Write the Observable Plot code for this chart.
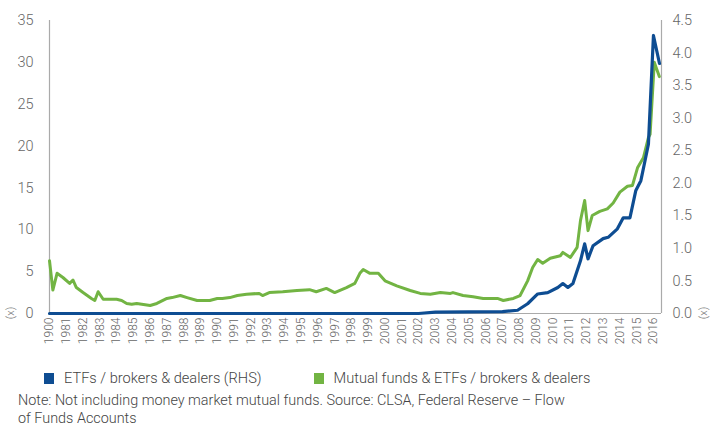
<!DOCTYPE html>
<html>
<head>
<meta charset="utf-8">
<script src="https://cdn.jsdelivr.net/npm/d3@7"></script>
<script src="https://cdn.jsdelivr.net/npm/@observablehq/plot@0.6"></script>
<style>
  body { margin: 0; background: #fff; font-family: Roboto, "Liberation Sans", sans-serif; font-weight: 300; }
  #wrap { position: relative; width: 711px; height: 428px; overflow: hidden; }
  #legend { position: absolute; left: 44px; top: 369px; font-size: 14.6px; color: #444; display: flex; align-items: center; white-space: nowrap; }
  .sw { display: inline-block; width: 10px; height: 11px; margin-right: 10px; }
  .item { display: flex; align-items: center; margin-right: 52px; }
  #note { position: absolute; left: 18px; top: 392px; font-size: 14.4px; line-height: 17.5px; color: #444; white-space: nowrap; }
  #note span { display: block; }
</style>
</head>
<body>
<div id="wrap">
  <div id="chart"></div>
  <div id="legend"></div>
  <div id="note"></div>
</div>
<script>
// ---- data ----
const years = d3.range(1980, 2017);
const yearLabels = ["1900","1981","1982","1983","1984","1985","1986","1987","1988","1989","1990","1991","1992","1993","1994","1995","1996","1997","1998","1999","2000","2001","2002","2003","2004","2005","2006","2007","2008","2009","2010","2011","2012","2013","2014","2015","2016"];
const leftTicks = [0, 5, 10, 15, 20, 25, 30, 35];
const rightTicks = [0, 0.5, 1.0, 1.5, 2.0, 2.5, 3.0, 3.5, 4.0, 4.5];

// Mutual funds & ETFs / brokers & dealers (left axis, x)
const mfTime = [1980.0,1980.2,1980.45,1980.8,1981.2,1981.4,1981.6,1982.0,1982.5,1982.7,1982.9,1983.2,1984.0,1984.3,1984.6,1984.9,1985.2,1986.0,1986.4,1987.0,1987.3,1987.8,1988.2,1988.8,1989.55,1990.0,1990.3,1990.75,1991.2,1991.75,1992.5,1992.7,1993.1,1993.9,1994.75,1995.5,1995.9,1996.5,1997.0,1997.7,1998.2,1998.5,1998.7,1999.1,1999.6,2000.0,2000.7,2001.5,2002.1,2002.7,2003.3,2003.9,2004.05,2004.65,2005.25,2005.85,2006.7,2007.05,2007.65,2008.05,2008.5,2008.8,2009.1,2009.4,2009.85,2010.45,2010.6,2011.05,2011.45,2011.65,2011.9,2012.1,2012.35,2012.8,2013.25,2013.6,2014.0,2014.45,2014.75,2015.05,2015.4,2015.7,2015.8,2016.05,2016.35];
const mfValue = [6.3,2.8,4.8,4.3,3.6,4.0,3.1,2.5,1.8,1.55,2.6,1.7,1.7,1.55,1.2,1.1,1.2,0.96,1.2,1.8,1.9,2.15,1.9,1.55,1.55,1.8,1.8,1.9,2.15,2.3,2.4,2.15,2.5,2.6,2.75,2.85,2.6,3.0,2.5,3.1,3.6,4.8,5.25,4.8,4.8,3.9,3.3,2.75,2.4,2.3,2.5,2.4,2.5,2.15,2.0,1.8,1.8,1.55,1.8,2.15,3.9,5.5,6.45,6.0,6.6,6.9,7.3,6.7,7.9,11.1,13.5,9.9,11.7,12.2,12.5,13.2,14.5,15.2,15.3,17.4,18.6,21.0,21.4,30.0,28.3];

// ETFs / brokers & dealers (right axis, x)
const etfTime = [1980.0,2002.0,2003.0,2007.0,2007.9,2008.5,2009.1,2009.7,2010.3,2010.6,2010.9,2011.2,2011.65,2011.9,2012.1,2012.4,2013.0,2013.3,2013.85,2014.2,2014.6,2014.95,2015.25,2015.5,2015.7,2016.0,2016.36];
const etfValue = [0.0,0.0,0.02,0.03,0.05,0.15,0.3,0.32,0.4,0.46,0.4,0.46,0.81,1.07,0.84,1.04,1.15,1.17,1.3,1.47,1.47,1.89,2.04,2.35,2.6,4.27,3.84];

const seriesNames = ["ETFs / brokers & dealers (RHS)", "Mutual funds & ETFs / brokers & dealers"];
const seriesColors = ["#0e4d92", "#72b443"];
const noteLines = ["Note: Not including money market mutual funds. Source: CLSA, Federal Reserve \u2013 Flow", "of Funds Accounts"];

// ---- build ----
const k = 35 / 4.5; // right axis -> left axis
const mf = mfTime.map((t, i) => ({t, v: mfValue[i]}));
const etf = etfTime.map((t, i) => ({t, v: etfValue[i] * k}));
const labelMap = new Map(years.map((y, i) => [y, yearLabels[i]]));

const chart = Plot.plot({
  width: 711,
  height: 355,
  marginLeft: 49,
  marginRight: 50,
  marginTop: 20,
  marginBottom: 42,
  style: { fontFamily: "Roboto, 'Liberation Sans', sans-serif", fontWeight: 300, color: "#666", background: "#fff" },
  x: { domain: [1980, 2016.48] },
  y: { domain: [0, 35] },
  marks: [
    Plot.ruleX([1980], { stroke: "#aaa", strokeWidth: 1.2 }),
    Plot.ruleX([2016.48], { stroke: "#aaa", strokeWidth: 1.2 }),
    Plot.ruleY([0], { stroke: "#aaa", strokeWidth: 1.2 }),
    Plot.axisX(years, { tickSize: 0, tickRotate: -90, tickPadding: 4, fontSize: 12, tickFormat: d => labelMap.get(d), label: null }),
    Plot.axisY(leftTicks, { anchor: "left", tickSize: 0, tickPadding: 16, fontSize: 14.5, label: null }),
    Plot.axisY(rightTicks.map(v => v * k), { anchor: "right", tickSize: 0, tickPadding: 11, fontSize: 14.5, tickFormat: d => (d / k).toFixed(1), label: null }),
    Plot.line(mf, { x: "t", y: "v", stroke: seriesColors[1], strokeWidth: 3, curve: "linear" }),
    Plot.line(etf, { x: "t", y: "v", stroke: seriesColors[0], strokeWidth: 3.2, curve: "linear" })
  ]
});
document.getElementById("chart").appendChild(chart);

// (x) unit labels
const svg = d3.select(chart);
[[10, 313], [703, 313]].forEach(([x, y]) => {
  svg.append("text").attr("transform", `translate(${x},${y}) rotate(-90)`)
    .attr("text-anchor", "middle").attr("dy", "0.35em")
    .attr("font-size", 11).attr("fill", "#777").text("(x)");
});

// legend
const legend = d3.select("#legend");
seriesNames.forEach((n, i) => {
  const it = legend.append("div").attr("class", "item");
  it.append("span").attr("class", "sw").style("background", seriesColors[i]);
  it.append("span").text(n);
});
const note = d3.select("#note");
noteLines.forEach(l => note.append("span").text(l));
</script>
</body>
</html>
